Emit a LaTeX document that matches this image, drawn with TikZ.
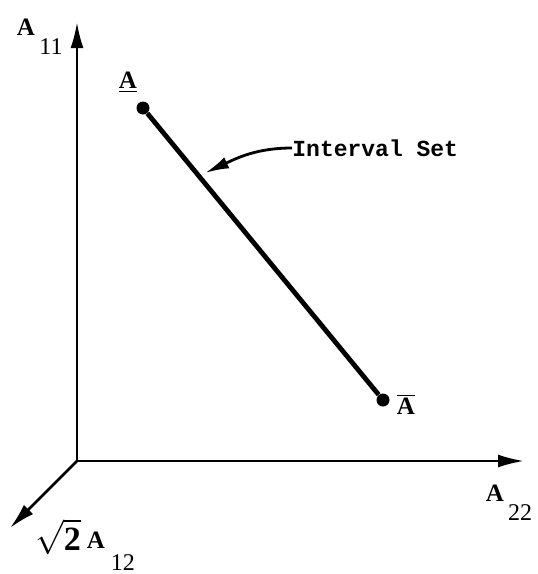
\documentclass[tikz,border=0pt]{standalone}
\usepackage{fontspec}
\setmainfont{Liberation Serif}
\setmonofont{Liberation Mono}
\usetikzlibrary{arrows.meta}
\tikzset{
  axis/.style={
    -{Latex[length=13pt,width=6.5pt]},
    line width=1.3pt
  },
  axlabel/.style={
    inner sep=0pt,
    font=\fontsize{12.5}{14}\selectfont\bfseries
  },
  sublabel/.style={
    inner sep=0pt,
    font=\fontsize{12}{14}\selectfont
  },
  ptdot/.style={
    circle,
    fill=black,
    inner sep=0pt,
    minimum size=6.5pt
  },
  interval/.style={
    line width=2.4pt
  },
  callout/.style={
    -{Latex[length=12pt,width=6pt]},
    line width=1.4pt
  }
}
\begin{document}
\begin{tikzpicture}[x=0.5pt,y=-0.5pt]

\useasboundingbox (0,0) rectangle (537,574);

% axes
\coordinate (origin) at (77,461);
\coordinate (tip11) at (77,22);
\coordinate (tip22) at (524,461);
\coordinate (tip12) at (10,528);

\draw[axis] (origin) -- (tip11);
\draw[axis] (origin) -- (tip22);
\draw[axis] (origin) -- (tip12);

\node[axlabel] (lblA11) at (26,27) {A};
\node[sublabel] (sub11) at (51,47) {11};

\node[axlabel] (lblA22) at (495,493) {A};
\node[sublabel] (sub22) at (520,513) {22};

\node[inner sep=0pt, font=\fontsize{17}{19}\selectfont] (root2) at (58,537) {$\sqrt{\mathbf{2}}$};
\node[axlabel] (lblA12) at (96,540) {A};
\node[sublabel] (sub12) at (123,563) {12};

% interval set
\node[ptdot] (aLow) at (143,108) {};
\node[ptdot] (aHigh) at (383,400) {};
\draw[interval] (aLow) -- (aHigh);

\node[axlabel] (lblLow) at (128,82) {\underline{A}};
\node[axlabel] (lblHigh) at (406,404) {$\overline{\mbox{\bfseries A}}$};

\node[inner sep=0pt, anchor=west, font=\fontsize{11.5}{13}\selectfont\ttfamily\bfseries] (setlbl) at (292,148) {Interval Set};
\coordinate (onset) at (205,173);
\draw[callout] (setlbl.west) to[out=180, in=25] (onset);

\end{tikzpicture}
\end{document}
